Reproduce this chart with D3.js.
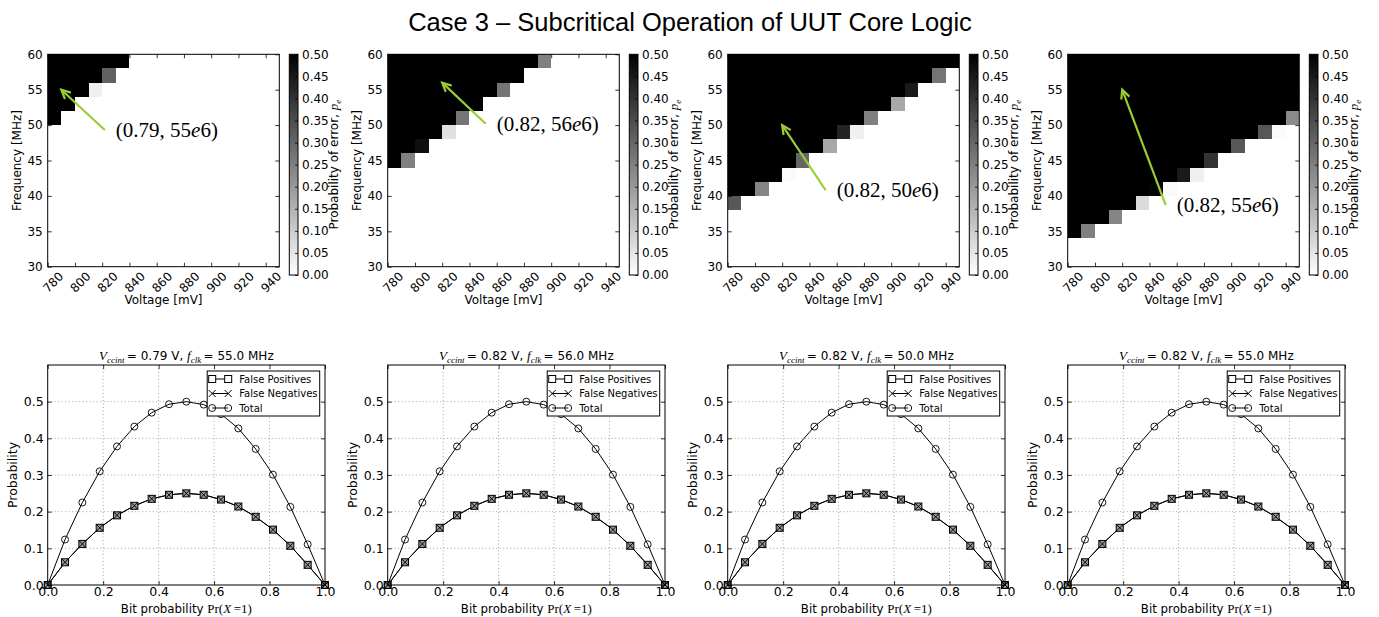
<!DOCTYPE html>
<html><head><meta charset="utf-8">
<script src="https://cdn.jsdelivr.net/npm/d3@7"></script>
<style>body{margin:0;background:#fff}svg{display:block}</style>
</head><body>
<svg id="c" width="1379" height="617"></svg>
<script>
// ---------------- DATA ----------------
const mainTitle = "Case 3 \u2013 Subcritical Operation of UUT Core Logic";
const voltages = [780,790,800,810,820,830,840,850,860,870,880,890,900,910,920,930,940];
const freqs = [58,56,54,52,50,48,46,44,42,40,38,36,34,32,30];
const vStep = 10, fStep = 2;
const voltTicks = [780,800,820,840,860,880,900,920,940];
const freqTicks = [30,35,40,45,50,55,60];
const cbTicks = [0,0.05,0.1,0.15,0.2,0.25,0.3,0.35,0.4,0.45,0.5];

// probability of error per (frequency row, voltage column)
const errCase1 = [
 [.5,.5,.5,.5,.5,.5,0,0,0,0,0,0,0,0,0,0,0],
 [.5,.5,.5,.5,.31,0,0,0,0,0,0,0,0,0,0,0,0],
 [.5,.5,.5,.03,0,0,0,0,0,0,0,0,0,0,0,0,0],
 [.5,.5,0,0,0,0,0,0,0,0,0,0,0,0,0,0,0],
 [.5,0,0,0,0,0,0,0,0,0,0,0,0,0,0,0,0],
 [0,0,0,0,0,0,0,0,0,0,0,0,0,0,0,0,0],
 [0,0,0,0,0,0,0,0,0,0,0,0,0,0,0,0,0],
 [0,0,0,0,0,0,0,0,0,0,0,0,0,0,0,0,0],
 [0,0,0,0,0,0,0,0,0,0,0,0,0,0,0,0,0],
 [0,0,0,0,0,0,0,0,0,0,0,0,0,0,0,0,0],
 [0,0,0,0,0,0,0,0,0,0,0,0,0,0,0,0,0],
 [0,0,0,0,0,0,0,0,0,0,0,0,0,0,0,0,0],
 [0,0,0,0,0,0,0,0,0,0,0,0,0,0,0,0,0],
 [0,0,0,0,0,0,0,0,0,0,0,0,0,0,0,0,0],
 [0,0,0,0,0,0,0,0,0,0,0,0,0,0,0,0,0]];
const errCase2 = [
 [.5,.5,.5,.5,.5,.5,.5,.5,.5,.5,.5,.25,0,0,0,0,0],
 [.5,.5,.5,.5,.5,.5,.5,.5,.5,.5,0,0,0,0,0,0,0],
 [.5,.5,.5,.5,.5,.5,.5,.5,.27,0,0,0,0,0,0,0,0],
 [.5,.5,.5,.5,.5,.5,.5,0,0,0,0,0,0,0,0,0,0],
 [.5,.5,.5,.5,.5,.27,0,0,0,0,0,0,0,0,0,0,0],
 [.5,.5,.5,.5,.06,0,0,0,0,0,0,0,0,0,0,0,0],
 [.5,.5,.47,0,0,0,0,0,0,0,0,0,0,0,0,0,0],
 [.5,.25,0,0,0,0,0,0,0,0,0,0,0,0,0,0,0],
 [0,0,0,0,0,0,0,0,0,0,0,0,0,0,0,0,0],
 [0,0,0,0,0,0,0,0,0,0,0,0,0,0,0,0,0],
 [0,0,0,0,0,0,0,0,0,0,0,0,0,0,0,0,0],
 [0,0,0,0,0,0,0,0,0,0,0,0,0,0,0,0,0],
 [0,0,0,0,0,0,0,0,0,0,0,0,0,0,0,0,0],
 [0,0,0,0,0,0,0,0,0,0,0,0,0,0,0,0,0],
 [0,0,0,0,0,0,0,0,0,0,0,0,0,0,0,0,0]];
const errCase3 = [
 [.5,.5,.5,.5,.5,.5,.5,.5,.5,.5,.5,.5,.5,.5,.5,.5,.5],
 [.5,.5,.5,.5,.5,.5,.5,.5,.5,.5,.5,.5,.5,.5,.5,.27,0],
 [.5,.5,.5,.5,.5,.5,.5,.5,.5,.5,.5,.5,.5,.45,0,0,0],
 [.5,.5,.5,.5,.5,.5,.5,.5,.5,.5,.5,.5,.17,0,0,0,0],
 [.5,.5,.5,.5,.5,.5,.5,.5,.5,.5,.25,0,0,0,0,0,0],
 [.5,.5,.5,.5,.5,.5,.5,.5,.43,.03,0,0,0,0,0,0,0],
 [.5,.5,.5,.5,.5,.5,.5,.17,0,0,0,0,0,0,0,0,0],
 [.5,.5,.5,.5,.5,.3,0,0,0,0,0,0,0,0,0,0,0],
 [.5,.5,.5,.5,.01,0,0,0,0,0,0,0,0,0,0,0,0],
 [.5,.5,.24,0,0,0,0,0,0,0,0,0,0,0,0,0,0],
 [.33,0,0,0,0,0,0,0,0,0,0,0,0,0,0,0,0],
 [0,0,0,0,0,0,0,0,0,0,0,0,0,0,0,0,0],
 [0,0,0,0,0,0,0,0,0,0,0,0,0,0,0,0,0],
 [0,0,0,0,0,0,0,0,0,0,0,0,0,0,0,0,0],
 [0,0,0,0,0,0,0,0,0,0,0,0,0,0,0,0,0]];
const errCase4 = [
 [.5,.5,.5,.5,.5,.5,.5,.5,.5,.5,.5,.5,.5,.5,.5,.5,.5],
 [.5,.5,.5,.5,.5,.5,.5,.5,.5,.5,.5,.5,.5,.5,.5,.5,.5],
 [.5,.5,.5,.5,.5,.5,.5,.5,.5,.5,.5,.5,.5,.5,.5,.5,.5],
 [.5,.5,.5,.5,.5,.5,.5,.5,.5,.5,.5,.5,.5,.5,.5,.5,.5],
 [.5,.5,.5,.5,.5,.5,.5,.5,.5,.5,.5,.5,.5,.5,.5,.5,.23],
 [.5,.5,.5,.5,.5,.5,.5,.5,.5,.5,.5,.5,.5,.5,.33,.01,0],
 [.5,.5,.5,.5,.5,.5,.5,.5,.5,.5,.5,.5,.33,0,0,0,0],
 [.5,.5,.5,.5,.5,.5,.5,.5,.5,.5,.4,0,0,0,0,0,0],
 [.5,.5,.5,.5,.5,.5,.5,.5,.45,.03,0,0,0,0,0,0,0],
 [.5,.5,.5,.5,.5,.5,.49,.01,0,0,0,0,0,0,0,0,0],
 [.5,.5,.5,.5,.5,.07,0,0,0,0,0,0,0,0,0,0,0],
 [.5,.5,.5,.24,0,0,0,0,0,0,0,0,0,0,0,0,0],
 [.5,.25,0,0,0,0,0,0,0,0,0,0,0,0,0,0,0],
 [0,0,0,0,0,0,0,0,0,0,0,0,0,0,0,0,0],
 [0,0,0,0,0,0,0,0,0,0,0,0,0,0,0,0,0]];
const heatmaps = [errCase1, errCase2, errCase3, errCase4];

// annotation: operating point (mV, MHz) and label position (mV, MHz)
const annVolt = [790, 820, 820, 820];
const annFreq = [55, 56, 50, 55];
const annLabelVolt = [830, 860, 860, 860];
const annLabelFreq = [49.3, 50.2, 40.8, 38.7];
const annVccint = ["0.79", "0.82", "0.82", "0.82"];
const annFreqE6 = ["55", "56", "50", "55"];

// bottom row
const panelVccint = ["0.79", "0.82", "0.82", "0.82"];
const panelFclk = ["55.0", "56.0", "50.0", "55.0"];
const bitProb = [0,.0625,.125,.1875,.25,.3125,.375,.4375,.5,.5625,.625,.6875,.75,.8125,.875,.9375,1];
const falsePositives = [0,.062,.112,.156,.19,.216,.235,.246,.25,.246,.233,.214,.186,.151,.107,.055,0];
const falseNegatives = [0,.062,.112,.156,.19,.216,.235,.246,.25,.246,.233,.214,.186,.151,.107,.055,0];
const totalErr = [0,.124,.225,.31,.378,.432,.47,.493,.5,.492,.466,.427,.371,.301,.213,.111,0];
const bitTicks = [0,.2,.4,.6,.8,1];
const probTicks = [0,.1,.2,.3,.4,.5];
const probGrid = [.1,.2,.3,.4,.5];
const bitGrid = [.2,.4,.6,.8];

// ---------------- DRAW ----------------
const SANS = "'DejaVu Sans', sans-serif";
const SERIF = "'Liberation Serif', 'DejaVu Serif', serif";
const svg = d3.select("#c");
svg.append("rect").attr("width",1379).attr("height",617).attr("fill","#fff");

svg.append("text").attr("x",690).attr("y",31).attr("text-anchor","middle")
  .style("font-family","'Liberation Sans', Arial, sans-serif").style("font-size","25.5px").attr("fill","#000")
  .text(mainTitle);

const defs = svg.append("defs");
const grad = defs.append("linearGradient").attr("id","cbgrad").attr("x1",0).attr("y1",1).attr("x2",0).attr("y2",0);
grad.append("stop").attr("offset","0%").attr("stop-color","#ffffff");
grad.append("stop").attr("offset","100%").attr("stop-color","#000000");

const color = d3.scaleLinear().domain([0,0.5]).range(["#ffffff","#000000"]).clamp(true);
const GREEN = "#9acd32";

function styleAxis(ax, fs){
  ax.select(".domain").remove();
  ax.selectAll("line").attr("stroke","#000").attr("stroke-width",0.8);
  ax.selectAll("text").attr("font-family",SANS).attr("font-size",fs).attr("fill","#000");
}

heatmaps.forEach((grid,i)=>{
  const L = 47.7 + 340*i, T = 54.3, Wd = 231.6, Ht = 212.4;
  const g = svg.append("g").attr("transform",`translate(${L},${T})`);
  const x = d3.scaleLinear().domain([voltages[0], voltages[voltages.length-1]+vStep]).range([0,Wd]);
  const y = d3.scaleLinear().domain([d3.min(freqs), d3.max(freqs)+fStep]).range([Ht,0]);
  const cells = [];
  grid.forEach((row,r)=>row.forEach((val,c)=>cells.push({v:voltages[c], f:freqs[r], val})));
  g.append("g").attr("shape-rendering","crispEdges").selectAll("rect").data(cells).join("rect")
    .attr("x",d=>x(d.v)).attr("y",d=>y(d.f+fStep))
    .attr("width",d=>x(d.v+vStep)-x(d.v)).attr("height",d=>y(d.f)-y(d.f+fStep))
    .attr("fill",d=>color(d.val));

  // axes
  const ab = g.append("g").attr("transform",`translate(0,${Ht})`)
    .call(d3.axisBottom(x).tickValues(voltTicks).tickSize(-4).tickSizeOuter(0).tickFormat(d3.format("d")));
  styleAxis(ab,12);
  ab.selectAll("text").attr("x",0).attr("y",0).attr("dy","0.35em").attr("text-anchor","end")
    .attr("transform","translate(13,7.5) rotate(-45)");
  const at = g.append("g").call(d3.axisTop(x).tickValues(voltTicks).tickSize(-4).tickSizeOuter(0).tickFormat(""));
  styleAxis(at,12);
  const al = g.append("g").call(d3.axisLeft(y).tickValues(freqTicks).tickSize(-4).tickSizeOuter(0).tickPadding(5).tickFormat(d3.format("d")));
  styleAxis(al,12);
  const ar = g.append("g").attr("transform",`translate(${Wd},0)`).call(d3.axisRight(y).tickValues(freqTicks).tickSize(-4).tickSizeOuter(0).tickFormat(""));
  styleAxis(ar,12);
  g.append("rect").attr("width",Wd).attr("height",Ht).attr("fill","none").attr("stroke","#000").attr("stroke-width",1);

  g.append("text").attr("x",Wd/2).attr("y",Ht+37.5).attr("text-anchor","middle")
    .attr("font-family",SANS).attr("font-size",12).text("Voltage [mV]");
  g.append("text").attr("transform",`translate(-27,${Ht/2}) rotate(-90)`).attr("text-anchor","middle")
    .attr("font-family",SANS).attr("font-size",12).text("Frequency [MHz]");

  // annotation arrow
  const hx = x(annVolt[i]), hy = y(annFreq[i]);
  const lx = x(annLabelVolt[i]), ly = y(annLabelFreq[i]);
  const tx = lx - 11, ty = ly;
  const ang = Math.atan2(ty-hy, tx-hx);
  const ah = 10, spread = 0.45;
  const ag = g.append("g").attr("stroke",GREEN).attr("stroke-width",2.2).attr("fill","none").attr("stroke-linecap","butt");
  ag.append("line").attr("x1",tx).attr("y1",ty).attr("x2",hx).attr("y2",hy);
  ag.append("path").attr("d",`M${hx+ah*Math.cos(ang+spread)},${hy+ah*Math.sin(ang+spread)}L${hx},${hy}L${hx+ah*Math.cos(ang-spread)},${hy+ah*Math.sin(ang-spread)}`);
  const at2 = g.append("text").attr("x",lx).attr("y",ly).attr("dy","0.33em")
    .attr("font-family",SERIF).attr("font-size",21).attr("fill","#000");
  at2.append("tspan").text(`(${annVccint[i]}, ${annFreqE6[i]}`);
  at2.append("tspan").attr("font-style","italic").text("e");
  at2.append("tspan").text("6)");

  // colorbar
  const cbX = 241.6, cbW = 8.7, cbTop = 0, cbH = 220.7;
  const cg = g.append("g").attr("transform",`translate(${cbX},${cbTop})`);
  cg.append("rect").attr("width",cbW).attr("height",cbH).attr("fill","url(#cbgrad)");
  const cy = d3.scaleLinear().domain([0,0.5]).range([cbH,0]);
  const ac = cg.append("g").attr("transform",`translate(${cbW},0)`)
    .call(d3.axisRight(cy).tickValues(cbTicks).tickSize(-3).tickSizeOuter(0).tickPadding(4).tickFormat(d3.format(".2f")));
  styleAxis(ac,12);
  cg.append("rect").attr("width",cbW).attr("height",cbH).attr("fill","none").attr("stroke","#000").attr("stroke-width",1);
  const cl = cg.append("text").attr("transform",`translate(49,${cbH/2}) rotate(-90)`).attr("text-anchor","middle")
    .attr("font-family",SANS).attr("font-size",12).attr("fill","#000");
  cl.append("tspan").text("Probability of error, ");
  cl.append("tspan").attr("font-family",SERIF).attr("font-style","italic").attr("font-size",13).text("p");
  cl.append("tspan").attr("font-family",SERIF).attr("font-style","italic").attr("font-size",9).attr("dy",3).text("e");
});

// bottom row
const series = [
  {name:"False Positives", vals:falsePositives, marker:"square"},
  {name:"False Negatives", vals:falseNegatives, marker:"x"},
  {name:"Total", vals:totalErr, marker:"circle"}
];
function drawMarker(sel, type, cx, cy, inLegend){
  if(type==="square"){
    sel.append("rect").attr("x",cx-3.5).attr("y",cy-3.5).attr("width",7).attr("height",7)
      .attr("fill", inLegend ? "#fff" : "#9a9a9a").attr("stroke","#000").attr("stroke-width",1);
  } else if(type==="x"){
    sel.append("path").attr("d",`M${cx-3.5},${cy-3.5}L${cx+3.5},${cy+3.5}M${cx-3.5},${cy+3.5}L${cx+3.5},${cy-3.5}`)
      .attr("stroke","#000").attr("stroke-width",1);
  } else {
    sel.append("circle").attr("cx",cx).attr("cy",cy).attr("r",3.5).attr("fill","none").attr("stroke","#000").attr("stroke-width",0.9);
  }
}

panelVccint.forEach((vc,i)=>{
  const L = 47.7 + 340*i, T = 365, Wb = 277.3, Hb = 220;
  const g = svg.append("g").attr("transform",`translate(${L},${T})`);
  const x = d3.scaleLinear().domain([0,1]).range([0,Wb]);
  const y = d3.scaleLinear().domain([0,0.6]).range([Hb,0]);

  // grid
  const gg = g.append("g").attr("stroke","#000").attr("stroke-width",0.6).attr("stroke-dasharray","1,2.5").attr("opacity",0.6);
  gg.selectAll("line.gx").data(bitGrid).join("line").attr("x1",d=>x(d)).attr("x2",d=>x(d)).attr("y1",0).attr("y2",Hb);
  gg.selectAll("line.gy").data(probGrid).join("line").attr("y1",d=>y(d)).attr("y2",d=>y(d)).attr("x1",0).attr("x2",Wb);

  const line = d3.line().x(d=>x(d[0])).y(d=>y(d[1]));
  series.forEach(s=>{
    const pts = bitProb.map((p,k)=>[p, s.vals[k]]);
    g.append("path").attr("d",line(pts)).attr("fill","none").attr("stroke","#000").attr("stroke-width",1);
  });
  series.forEach(s=>{
    const mg = g.append("g");
    bitProb.forEach((p,k)=>drawMarker(mg, s.marker, x(p), y(s.vals[k]), false));
  });

  const ab = g.append("g").attr("transform",`translate(0,${Hb})`)
    .call(d3.axisBottom(x).tickValues(bitTicks).tickSize(-4).tickSizeOuter(0).tickPadding(2.5).tickFormat(d3.format(".1f")));
  styleAxis(ab,12.5);
  const at = g.append("g").call(d3.axisTop(x).tickValues(bitTicks).tickSize(-4).tickSizeOuter(0).tickFormat(""));
  styleAxis(at,12);
  const al = g.append("g").call(d3.axisLeft(y).tickValues(probTicks).tickSize(-4).tickSizeOuter(0).tickPadding(4).tickFormat(d3.format(".1f")));
  styleAxis(al,12.5);
  const ar = g.append("g").attr("transform",`translate(${Wb},0)`).call(d3.axisRight(y).tickValues(probTicks).tickSize(-4).tickSizeOuter(0).tickFormat(""));
  styleAxis(ar,12);
  g.append("rect").attr("width",Wb).attr("height",Hb).attr("fill","none").attr("stroke","#000").attr("stroke-width",1);

  // labels
  g.append("text").attr("transform",`translate(-31,${Hb/2}) rotate(-90)`).attr("text-anchor","middle")
    .attr("font-family",SANS).attr("font-size",12.5).text("Probability");
  const xl = g.append("text").attr("x",Wb/2).attr("y",Hb+27.5).attr("text-anchor","middle").attr("font-family",SANS).attr("font-size",11.8);
  xl.append("tspan").text("Bit probability ");
  xl.append("tspan").attr("font-family",SERIF).attr("font-size",13).text("Pr(");
  xl.append("tspan").attr("font-family",SERIF).attr("font-style","italic").attr("font-size",13).text("X");
  xl.append("tspan").attr("font-family",SERIF).attr("font-size",13).text("\u2009=1)");

  const tt = g.append("text").attr("x",Wb/2).attr("y",-5).attr("text-anchor","middle").attr("font-family",SANS).attr("font-size",12);
  tt.append("tspan").attr("font-family",SERIF).attr("font-style","italic").attr("font-size",13).text("V");
  tt.append("tspan").attr("font-family",SERIF).attr("font-style","italic").attr("font-size",9).attr("dy",2.5).text("ccint");
  tt.append("tspan").attr("dy",-2.5).text(`\u2009= ${vc} V, `);
  tt.append("tspan").attr("font-family",SERIF).attr("font-style","italic").attr("font-size",13).text("f");
  tt.append("tspan").attr("font-family",SERIF).attr("font-style","italic").attr("font-size",9).attr("dy",2.5).text("clk");
  tt.append("tspan").attr("dy",-2.5).text(`\u2009= ${panelFclk[i]} MHz`);

  // legend
  const lg = g.append("g").attr("transform","translate(159.5,6)");
  lg.append("rect").attr("width",112.5).attr("height",45).attr("fill","#fff").attr("stroke","#000").attr("stroke-width",1);
  series.forEach((s,k)=>{
    const yy = 8 + k*14.5;
    lg.append("line").attr("x1",5).attr("x2",21).attr("y1",yy).attr("y2",yy).attr("stroke","#000").attr("stroke-width",1);
    drawMarker(lg, s.marker, 5, yy, true);
    drawMarker(lg, s.marker, 21, yy, true);
    lg.append("text").attr("x",32).attr("y",yy).attr("dy","0.35em").attr("font-family",SANS).attr("font-size",10).text(s.name);
  });
});
</script>
</body></html>
